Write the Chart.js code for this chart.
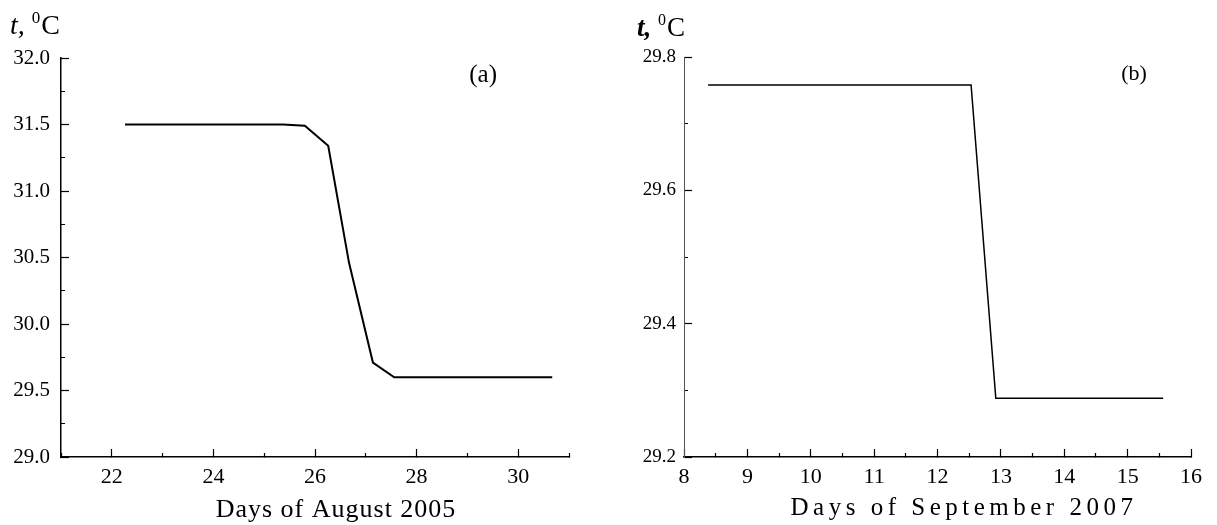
<!DOCTYPE html>
<html>
<head>
<meta charset="utf-8">
<script src="https://cdn.jsdelivr.net/npm/chart.js@4"></script>
<style>
  body { margin: 0; background: #fff; }
  #wrap { position: relative; width: 1217px; height: 525px; }
  canvas { position: absolute; top: 0; }
</style>
</head>
<body>
<div id="wrap">
  <canvas id="chartA" width="600" height="525" style="left:0"></canvas>
  <canvas id="chartB" width="617" height="525" style="left:600px"></canvas>
</div>
<script>
// (a) August 2005
const augDays = [22.26, 25.37, 25.80, 26.26, 26.67, 27.14, 27.56, 30.67];
const augTemp = [31.50, 31.50, 31.49, 31.34, 30.46, 29.71, 29.60, 29.60];
const augDayLabels = [22, 24, 26, 28, 30];
const augTempLabels = [29.0, 29.5, 30.0, 30.5, 31.0, 31.5, 32.0];

// (b) September 2007
const sepDays = [8.38, 12.53, 12.92, 15.56];
const sepTemp = [29.758, 29.758, 29.288, 29.288];
const sepDayLabels = [8, 9, 10, 11, 12, 13, 14, 15, 16];
const sepTempLabels = [29.2, 29.4, 29.6, 29.8];

const SERIF = "'Liberation Serif', 'Times New Roman', serif";

function inList(list, v) {
    return list.some(l => Math.abs(l - v) < 1e-6);
}

// axis titles and panel tags
const labelsPlugin = {
    id: 'labels',
    afterDraw(chart, args, opts) {
        const ctx = chart.ctx;
        const yl = opts.yLabel;
        ctx.save();
        ctx.fillStyle = '#000';
        ctx.textBaseline = 'alphabetic';
        ctx.textAlign = 'left';
        let x = yl.x;
        ctx.font = yl.tFont;
        ctx.fillText('t,', x, yl.y);
        x += ctx.measureText('t, ').width;
        ctx.font = yl.supFont;
        ctx.fillText('0', x, yl.y - yl.rise);
        x += ctx.measureText('0').width + 1;
        ctx.font = yl.font;
        ctx.fillText('C', x, yl.y);

        const xt = opts.xTitle;
        ctx.font = xt.font;
        ctx.letterSpacing = xt.spacing;
        ctx.textAlign = 'center';
        ctx.fillText(xt.text, xt.x, xt.y);
        ctx.letterSpacing = '0px';

        const tag = opts.tag;
        ctx.font = tag.font;
        ctx.textBaseline = 'middle';
        ctx.fillText(tag.text, chart.scales.x.getPixelForValue(tag.xv), chart.scales.y.getPixelForValue(tag.yv));
        ctx.restore();
    }
};

function makeScales(cfg) {
    return {
        x: {
            type: 'linear',
            min: cfg.xMin, max: cfg.xMax,
            border: { color: '#000', width: 1.5 },
            grid: {
                drawOnChartArea: false,
                tickLength: -8,
                tickColor: '#000',
                tickWidth: 1.2,
                tickBorderDash: c => inList(cfg.xLabels, c.tick.value) ? [] : [4.5, 100]
            },
            ticks: {
                stepSize: cfg.xStep,
                autoSkip: false,
                maxRotation: 0,
                maxTicksLimit: 100,
                padding: 15,
                color: '#000',
                font: { family: SERIF, size: cfg.xFont },
                callback: v => inList(cfg.xLabels, v) ? String(Math.round(v)) : ''
            },
            afterFit: s => { s.height = 68; }
        },
        y: {
            type: 'linear',
            min: cfg.yMin, max: cfg.yMax,
            border: { color: cfg.yBorder, width: cfg.yBorderWidth },
            grid: {
                drawOnChartArea: false,
                tickLength: -8,
                tickColor: '#000',
                tickWidth: 1.2,
                tickBorderDash: c => inList(cfg.yLabels, c.tick.value) ? [] : [0, 4, 10, 100]
            },
            ticks: {
                stepSize: cfg.yStep,
                autoSkip: false,
                maxTicksLimit: 100,
                padding: cfg.yPad,
                color: '#000',
                font: { family: SERIF, size: cfg.yFont },
                callback: v => inList(cfg.yLabels, v) ? v.toFixed(1) : ''
            },
            afterFit: s => { s.width = cfg.yWidth; }
        }
    };
}

new Chart(document.getElementById('chartA'), {
    type: 'line',
    data: {
        datasets: [{
            data: augDays.map((d, i) => ({ x: d, y: augTemp[i] })),
            borderColor: '#000',
            borderWidth: 2,
            pointRadius: 0,
            tension: 0
        }]
    },
    options: {
        responsive: false,
        animation: false,
        layout: { padding: { top: 58, right: 31, left: 0, bottom: 0 } },
        plugins: {
            legend: { display: false },
            tooltip: { enabled: false },
            labels: {
                yLabel: { x: 10, y: 34, tFont: 'italic 28px ' + SERIF, font: '28px ' + SERIF, supFont: '17px ' + SERIF, rise: 11 },
                xTitle: { text: 'Days of August 2005', x: 336, y: 517, font: '26px ' + SERIF, spacing: '1px' },
                tag: { text: '(a)', xv: 29.31, yv: 31.87, font: '25px ' + SERIF }
            }
        },
        scales: makeScales({
            xMin: 21, xMax: 31, xStep: 1, xLabels: augDayLabels, xFont: 22,
            yMin: 29, yMax: 32, yStep: 0.25, yLabels: augTempLabels, yFont: 21,
            yBorder: '#000', yBorderWidth: 1.5, yPad: 19, yWidth: 61
        })
    },
    plugins: [labelsPlugin]
});

new Chart(document.getElementById('chartB'), {
    type: 'line',
    data: {
        datasets: [{
            data: sepDays.map((d, i) => ({ x: d, y: sepTemp[i] })),
            borderColor: '#000',
            borderWidth: 1.5,
            pointRadius: 0,
            tension: 0
        }]
    },
    options: {
        responsive: false,
        animation: false,
        layout: { padding: { top: 57, right: 21, left: 0, bottom: 0 } },
        plugins: {
            legend: { display: false },
            tooltip: { enabled: false },
            labels: {
                yLabel: { x: 37, y: 36, tFont: 'bold italic 27px ' + SERIF, font: '27px ' + SERIF, supFont: '16px ' + SERIF, rise: 11 },
                xTitle: { text: 'Days of September 2007', x: 364, y: 515, font: '25px ' + SERIF, spacing: '4.5px' },
                tag: { text: '(b)', xv: 15.1, yv: 29.774, font: '22px ' + SERIF }
            }
        },
        scales: makeScales({
            xMin: 8, xMax: 16, xStep: 0.5, xLabels: sepDayLabels, xFont: 22,
            yMin: 29.2, yMax: 29.8, yStep: 0.1, yLabels: sepTempLabels, yFont: 19,
            yBorder: '#555', yBorderWidth: 1, yPad: 16, yWidth: 84
        })
    },
    plugins: [labelsPlugin]
});
</script>
</body>
</html>
